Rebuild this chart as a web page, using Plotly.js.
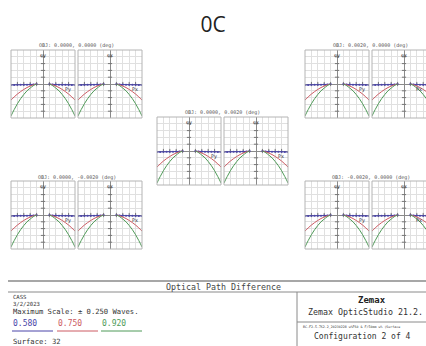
<!DOCTYPE html>
<html><head><meta charset="utf-8">
<script src="https://cdn.plot.ly/plotly-3.0.1.min.js"></script>
<style>html,body{margin:0;padding:0;background:#fff}#chart{width:426px;height:346px}</style>
</head><body><div id="chart"></div>
<script>
// ---- data ----
const pupil   = [0.2, 0.3, 0.4, 0.5, 0.6, 0.7, 0.8, 0.9, 1.0];
const opd580  = [0.0, -0.003, -0.004, -0.005, -0.005, -0.006, -0.006, -0.007, -0.008];
const opd750  = [0.0, -0.006, -0.015, -0.026, -0.040, -0.056, -0.074, -0.095, -0.118];
const opd920  = [0.0, -0.012, -0.030, -0.050, -0.077, -0.108, -0.145, -0.188, -0.235];
const fieldTitles = ['OBJ: 0.0000, 0.0000 (deg)', 'OBJ: 0.0020, 0.0000 (deg)', 'OBJ: 0.0000, 0.0020 (deg)',
                     'OBJ: 0.0000, -0.0020 (deg)', 'OBJ: -0.0020, 0.0000 (deg)'];
const fanAxes = [['ey','Py'], ['ex','Px']];
const wavelengths = ['0.580', '0.750', '0.920'];
const xTicks = [-0.8, -0.6, -0.4, -0.2, 0.2, 0.4, 0.6, 0.8];
const yTicks = [-0.2, -0.15, -0.1, -0.05, 0.05, 0.1, 0.15, 0.2];

// ---- layout ----
const W = 426, H = 346;
const colors = ['#4a45a8', '#cc5a62', '#4f9a58'];
const series = [opd580, opd750, opd920];
const pairPos = [[11, 50], [305, 50], [157, 117], [11, 181], [305, 181]];
const PW = 64, PH = 68, GAP = 3;
const mono = 'DejaVu Sans Mono, monospace';

const fullX = pupil.slice().reverse().map(p => -p).concat([null]).concat(pupil);
function fullY(v) { return v.slice().reverse().concat([null]).concat(v); }

const traces = [], shapes = [], annotations = [];
const layout = {
  width: W, height: H, margin: {l: 0, r: 0, t: 0, b: 0},
  paper_bgcolor: '#fff', plot_bgcolor: '#fff', showlegend: false,
  title: {text: '0C', x: 0.5, xanchor: 'center', y: 1 - 25 / H, yanchor: 'middle',
          font: {family: 'Open Sans, sans-serif', size: 21, color: '#222'}},
  shapes, annotations
};

let n = 0;
pairPos.forEach((pp, f) => {
  const [px, py] = pp;
  annotations.push({xref: 'paper', yref: 'paper', x: (px + PW + GAP / 2) / W, y: 1 - (py - 4) / H,
    xanchor: 'center', yanchor: 'middle', showarrow: false, text: fieldTitles[f],
    font: {family: mono, size: 5, color: '#555'}});
  for (let s = 0; s < 2; s++) {
    n++;
    const x0 = px + s * (PW + GAP), x1 = x0 + PW;
    const visRight = Math.min(x1, W);
    const frac = (visRight - x0) / PW;
    const xa = 'xaxis' + (n === 1 ? '' : n), ya = 'yaxis' + (n === 1 ? '' : n);
    const xr = 'x' + (n === 1 ? '' : n), yr = 'y' + (n === 1 ? '' : n);
    layout[xa] = {domain: [x0 / W, visRight / W], range: [-1, -1 + 2 * frac], anchor: yr,
      showgrid: true, gridcolor: '#e0e0e0', gridwidth: 1, dtick: 0.2, tick0: 0,
      zeroline: true, zerolinecolor: '#8a8a8a', zerolinewidth: 1, showticklabels: false, ticks: '', showline: false};
    layout[ya] = {domain: [1 - (py + PH) / H, 1 - py / H], range: [-0.25, 0.25], anchor: xr,
      showgrid: true, gridcolor: '#e0e0e0', gridwidth: 1, dtick: 0.05, tick0: 0,
      zeroline: true, zerolinecolor: '#8a8a8a', zerolinewidth: 1, showticklabels: false, ticks: '', showline: false};
    shapes.push({type: 'rect', xref: xr + ' domain', yref: yr + ' domain', x0: 0, x1: 1 / frac, y0: 0, y1: 1,
      line: {color: '#b4b4b4', width: 1}, layer: 'above'});
    // axis tick dashes
    traces.push({type: 'scatter', mode: 'markers', xaxis: xr, yaxis: yr, hoverinfo: 'skip',
      x: yTicks.map(() => 0), y: yTicks,
      marker: {symbol: 'line-ew', size: 3, line: {width: 1, color: '#777'}}});
    traces.push({type: 'scatter', mode: 'markers', xaxis: xr, yaxis: yr, hoverinfo: 'skip',
      x: xTicks, y: xTicks.map(() => 0),
      marker: {symbol: 'line-ns', size: 3, line: {width: 1, color: '#777'}}});
    // curves
    series.forEach((v, k) => {
      traces.push({type: 'scatter', mode: k === 0 ? 'lines+markers' : 'lines', xaxis: xr, yaxis: yr,
        x: fullX, y: fullY(v), connectgaps: false, hoverinfo: 'skip',
        line: {color: colors[k], width: 1, shape: 'spline'},
        marker: {size: 2, color: colors[k]}});
    });
    annotations.push({xref: xr, yref: yr + ' domain', x: 0, y: 1, yanchor: 'top', xanchor: 'center',
      showarrow: false, text: fanAxes[s][0], font: {family: mono, size: 5, color: '#333'}});
    annotations.push({xref: xr + ' domain', yref: yr, x: 0.97, y: 0, yanchor: 'top', xanchor: 'right',
      showarrow: false, text: fanAxes[s][1], font: {family: mono, size: 5, color: '#334'}});
  }
});

// ---- bottom info box ----
function hl(y, xa, xb, w, c) { shapes.push({type: 'line', xref: 'paper', yref: 'paper', x0: xa / W, x1: xb / W, y0: 1 - y / H, y1: 1 - y / H, line: {color: c || '#8a8a8a', width: w || 1}}); }
function vl(x, ya, yb) { shapes.push({type: 'line', xref: 'paper', yref: 'paper', x0: x / W, x1: x / W, y0: 1 - ya / H, y1: 1 - yb / H, line: {color: '#8a8a8a', width: 1}}); }
function txt(t, x, y, size, opts) {
  opts = opts || {};
  annotations.push({xref: 'paper', yref: 'paper', x: x / W, y: 1 - y / H, xanchor: opts.anchor || 'left', yanchor: 'middle',
    showarrow: false, text: t, font: {family: mono, size: size, color: opts.color || '#333', weight: opts.weight || 'normal'}});
}
hl(281, 8, 426, 1.5);
hl(292, 8, 426, 1);
vl(297, 292, 346);
hl(322, 297, 426, 1);
txt('Optical Path Difference', 223, 287, 8.3, {anchor: 'center', color: '#444'});
txt('CASS', 11, 296.5, 5.6);
txt('3/2/2023', 11, 304, 5.6);
txt('Maximum Scale: \u00b1 0.250 Waves.', 11, 311.5, 7.2);
const legX = [11, 56, 100];
wavelengths.forEach((w, k) => {
  txt(w, legX[k], 323.5, 8, {color: colors[k]});
  hl(331, legX[k] + 1, legX[k] + 42, 1, colors[k]);
});
txt('Surface: 32', 11, 341, 7.2);
txt('Zemax', 372, 300, 9, {anchor: 'center', weight: 'bold', color: '#222'});
txt('Zemax OpticStudio 21.2.', 306, 312, 8.3, {color: '#333'});
txt('BC-F2-5-7S2-2_20230228 w%FS0 & F/50mm w% (Surface', 301, 326.5, 3.3, {color: '#333'});
txt('Configuration 2 of 4', 312, 336, 8, {color: '#333'});

Plotly.newPlot('chart', traces, layout, {staticPlot: true, displayModeBar: false});
</script></body></html>
